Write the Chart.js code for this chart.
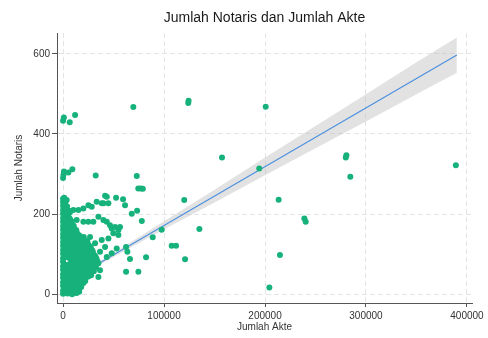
<!DOCTYPE html>
<html>
<head>
<meta charset="utf-8">
<script src="https://cdn.jsdelivr.net/npm/chart.js@4.4.0/dist/chart.umd.min.js"></script>
<style>
	html, body { margin: 0; padding: 0; background: #fff; }
</style>
</head>
<body>
<canvas id="grafik" width="488" height="338"></canvas>
<script>
// data (x = jumlah akte, y = jumlah notaris)
const tickAkte = [0, 100000, 200000, 300000, 400000];
const tickNotaris = [0, 200, 400, 600];

// kumpulan titik yang padat di dekat nol
const padat = [
	[0, 1], [4500, 2], [9000, 0], [13500, 3], [16000, 6],
	[0, 9], [2200, 11], [6700, 10], [11200, 8], [15700, 12],
	[0, 21], [4500, 19], [9000, 22], [13500, 20], [18000, 18],
	[0, 30], [2200, 31], [6700, 29], [11200, 32], [15700, 30], [20200, 28],
	[0, 41], [4500, 39], [9000, 42], [13500, 40], [18000, 38], [22500, 41],
	[0, 50], [2200, 52], [6700, 49], [11200, 51], [15700, 50], [20200, 48], [24700, 52], [27800, 47],
	[0, 61], [4500, 59], [9000, 62], [13500, 60], [18000, 58], [22500, 61], [27000, 60], [30500, 57],
	[0, 70], [2200, 72], [6700, 69], [11200, 71], [15700, 70], [20200, 68], [24700, 72], [29200, 70], [32500, 67],
	[0, 81], [9000, 82], [13500, 80], [18000, 78], [22500, 81], [27000, 80], [31500, 78], [34000, 83],
	[0, 90], [2200, 92], [6700, 89], [11200, 91], [15700, 90], [20200, 88], [29200, 91], [33000, 89],
	[0, 101], [4500, 99], [9000, 102], [13500, 100], [18000, 98], [22500, 101], [27000, 100], [31000, 97],
	[0, 110], [2200, 112], [6700, 109], [11200, 111], [15700, 110], [20200, 108], [24700, 112], [29000, 109],
	[0, 121], [4500, 119], [9000, 122], [13500, 120], [18000, 118], [22500, 121], [27000, 119],
	[0, 130], [2200, 132], [6700, 129], [11200, 131], [15700, 130], [20200, 128], [24000, 132],
	[0, 141], [4500, 139], [9000, 142], [13500, 140], [18000, 138], [20500, 143],
	[0, 150], [2200, 152], [6700, 149], [11200, 151], [15500, 148],
	[0, 161], [4500, 159], [9000, 162], [13000, 160],
	[0, 170], [2200, 172], [6700, 169], [10500, 171],
	[0, 181], [4500, 179], [8500, 182],
	[0, 190], [2200, 192], [6500, 189],
	[0, 201], [4500, 199], [6800, 204],
	[0, 210], [2200, 212], [5500, 209],
	[0, 221], [4000, 219],
	[0, 230], [2500, 231],
	[0, 238], [1200, 241],
	// lapisan sela
	[3400, 5], [7900, 6], [12400, 4],
	[1100, 15], [5600, 16], [10100, 14], [14600, 15],
	[3400, 25], [7900, 24], [12400, 26], [16900, 25],
	[1100, 35], [5600, 36], [10100, 34], [14600, 35], [19100, 36], [22000, 33],
	[3400, 45], [7900, 46], [12400, 44], [16900, 45], [21400, 46], [25000, 44],
	[1100, 55], [5600, 56], [10100, 54], [14600, 55], [19100, 56], [23600, 54], [27500, 56],
	[3400, 65], [7900, 66], [12400, 64], [16900, 65], [21400, 66], [25900, 64], [30000, 65],
	[1100, 75], [5600, 74], [10100, 76], [14600, 75], [19100, 74], [23600, 76], [28100, 75], [31500, 74],
	[7900, 86], [12400, 84], [16900, 85], [21400, 86], [25900, 84], [30400, 85],
	[1100, 95], [5600, 96], [10100, 94], [14600, 95], [19100, 96], [23600, 94], [28100, 95], [32000, 94],
	[3400, 105], [7900, 106], [12400, 104], [16900, 105], [21400, 106], [25900, 104], [29500, 105],
	[1100, 115], [5600, 116], [10100, 114], [14600, 115], [19100, 116], [23600, 114], [27500, 115],
	[3400, 125], [7900, 126], [12400, 124], [16900, 125], [21400, 126], [25000, 124],
	[1100, 135], [5600, 136], [10100, 134], [14600, 135], [19100, 136], [22000, 134],
	[3400, 145], [7900, 146], [12400, 144], [16500, 145],
	[1100, 155], [5600, 156], [10100, 154], [13500, 155],
	[3400, 165], [7900, 166], [11000, 164],
	[1100, 175], [5600, 176], [9000, 174],
	[3400, 185], [7000, 186],
	[1100, 195], [5000, 196],
	[3400, 205],
	[1100, 215], [3500, 216],
	[1800, 225]
];

// titik yang tersebar
const sebar = [
	[0, 433], [800, 441], [6600, 429], [11900, 447],
	[0, 290], [400, 298], [900, 306], [5300, 304], [9200, 312],
	[32300, 296], [73000, 295],
	[69600, 467], [124000, 477], [124300, 483], [200700, 468],
	[157400, 341], [280000, 341], [280600, 347], [284500, 293], [389000, 322],
	[194300, 314], [213500, 236], [239000, 189], [240300, 181], [214800, 98], [204300, 17], [135000, 163],
	[120000, 235], [97700, 161], [88800, 142], [107600, 121], [111900, 121], [82200, 92], [120800, 87],
	[62400, 56], [74600, 56], [66300, 88],
	[74500, 264], [77000, 264], [79000, 263], [41600, 246], [52500, 241], [59400, 237],
	[68000, 201], [73300, 208], [78000, 183],
	[3600, 235], [1500, 222], [10200, 210], [15200, 210], [20100, 214], [25100, 222], [28400, 218],
	[33300, 231], [38300, 227], [43300, 243], [40000, 227], [44900, 227], [61400, 222],
	[13500, 185], [20100, 181], [25100, 181], [30000, 181], [35000, 193], [40000, 185], [43300, 181],
	[46500, 172], [48200, 164], [51500, 168], [54800, 160], [56400, 168], [49800, 152], [54800, 148],
	[44900, 139], [38300, 135], [41600, 118], [26700, 143], [31700, 127], [36600, 106],
	[30000, 93], [26000, 85], [22800, 92], [35000, 43], [62400, 118], [63700, 106],
	[53100, 114], [48200, 102], [43300, 93], [35000, 77], [30000, 68], [36600, 60], [26700, 52]
];

// garis regresi dan selang kepercayaan 95%
const fitAkte = [0, 390000];
const fitNotaris = [25, 597];
const bandAkte = [0, 50000, 100000, 150000, 200000, 250000, 300000, 350000, 390000];
const bandAtas = [29, 103, 182, 261, 341, 420, 499, 579, 641];
const bandBawah = [21, 93, 162, 229, 297, 364, 431, 499, 553];

const hijau = "#17b27b";
const biru = "#4a8fe0";
const abu = "#555555";

Chart.defaults.font.family = "'Liberation Sans', Arial, sans-serif";
Chart.defaults.color = "#333";

const titik = padat.concat(sebar).map(p => ({ x: p[0], y: p[1] }));
const garis = fitAkte.map((x, i) => ({ x: x, y: fitNotaris[i] }));
const atas = bandAkte.map((x, i) => ({ x: x, y: bandAtas[i] }));
const bawah = bandAkte.map((x, i) => ({ x: x, y: bandBawah[i] }));

new Chart(document.getElementById("grafik"), {
	type: "scatter",
	data: {
		datasets: [
			{
				type: "scatter",
				data: titik,
				order: 0,
				pointRadius: 3,
				pointBackgroundColor: hijau,
				pointBorderWidth: 0
			},
			{
				type: "line",
				data: garis,
				order: 1,
				borderColor: biru,
				borderWidth: 1.1,
				pointRadius: 0,
				fill: false
			},
			{
				type: "line",
				data: atas,
				order: 2,
				borderWidth: 0,
				pointRadius: 0,
				backgroundColor: "rgba(185,185,185,0.42)",
				fill: "+1"
			},
			{
				type: "line",
				data: bawah,
				order: 3,
				borderWidth: 0,
				pointRadius: 0,
				fill: false
			}
		]
	},
	options: {
		responsive: false,
		animation: false,
		events: [],
		layout: { padding: { top: 0, right: 16, bottom: 0, left: 0 } },
		plugins: {
			legend: { display: false },
			tooltip: { enabled: false },
			title: {
				display: true,
				text: "Jumlah Notaris dan Jumlah Akte",
				fullSize: false,
				color: "#1a1a1a",
				font: { size: 14, weight: "normal" },
				padding: { top: 10, bottom: 6.2 }
			}
		},
		scales: {
			x: {
				type: "linear",
				min: -6000,
				max: 405000,
				afterBuildTicks: s => { s.ticks = tickAkte.map(v => ({ value: v })); },
				afterFit: s => { s.height = 35; },
				ticks: { font: { size: 10 }, color: "#333", padding: 3, callback: v => String(v) },
				grid: { color: "#e4e4e4", tickLength: 4, tickColor: abu, tickWidth: 1 },
				border: { color: abu, width: 1, dash: [5, 3] },
				title: { display: true, text: "Jumlah Akte", font: { size: 10 }, color: "#333", padding: { top: 0, bottom: 5 } }
			},
			y: {
				type: "linear",
				min: -22,
				max: 652,
				afterBuildTicks: s => { s.ticks = tickNotaris.map(v => ({ value: v })); },
				afterFit: s => { s.width = 57; },
				ticks: { font: { size: 10 }, color: "#333", padding: 2, callback: v => String(v) },
				grid: { color: "#e4e4e4", tickLength: 5, tickColor: abu, tickWidth: 1 },
				border: { color: abu, width: 1, dash: [5, 3] },
				title: { display: true, text: "Jumlah Notaris", font: { size: 10 }, color: "#333", padding: { top: 13, bottom: 0 } }
			}
		}
	}
});
</script>
</body>
</html>
